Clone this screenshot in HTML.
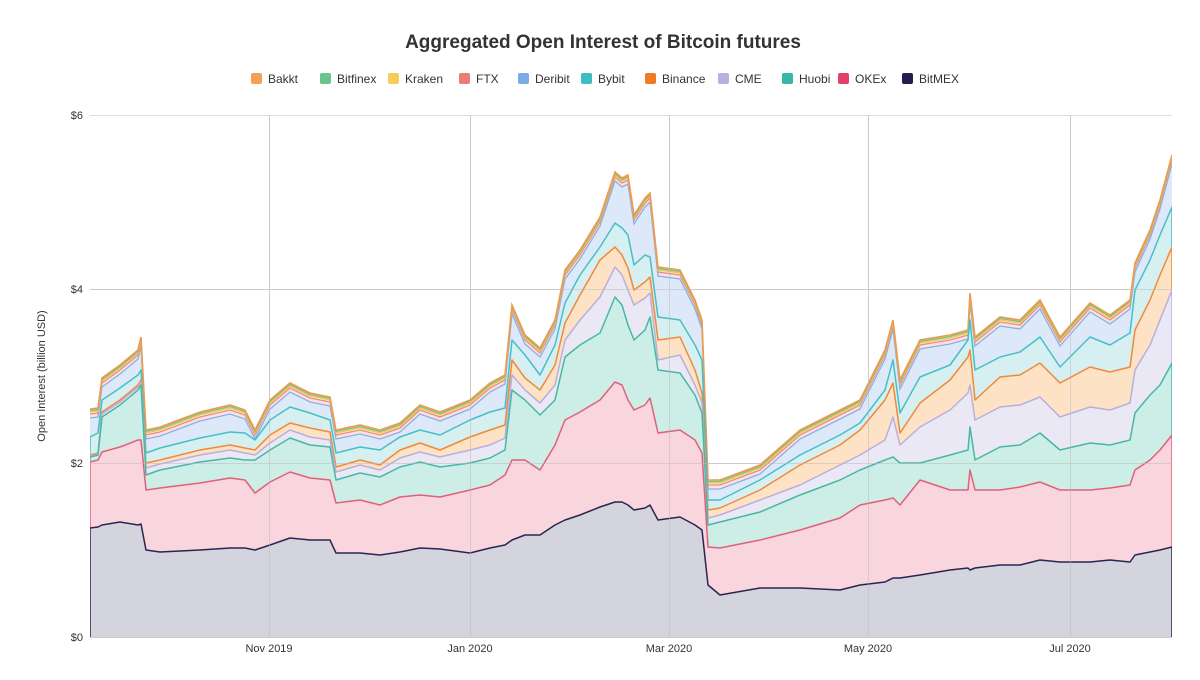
<!DOCTYPE html>
<html><head><meta charset="utf-8"><style>
body{margin:0;background:#fff;width:1200px;height:675px;overflow:hidden;font-family:"Liberation Sans",sans-serif}
</style></head><body>
<svg width="1200" height="675" xmlns="http://www.w3.org/2000/svg" xmlns:xlink="http://www.w3.org/1999/xlink" font-family="Liberation Sans, sans-serif">
<defs>
<clipPath id="cp"><rect x="90" y="100" width="1082" height="537"/></clipPath>
<polygon id="T" points="90,409 98,408 102,378 120,365 138,350 141,337 146,430 160,427 200,412 230,405 245,410 255,430 270,400 290,383 310,393 330,397 336,430 360,425 380,430 400,423 420,405 440,412 470,400 490,383 505,375 512,305 525,335 540,348 555,320 565,270 580,250 600,217 615,172 622,178 628,175 634,215 645,198 650,193 658,267 680,270 695,300 702,320 708,480 720,480 760,465 800,430 840,410 860,400 885,350 893,320 900,380 920,340 950,335 968,330 970,293 975,337 1000,317 1020,320 1040,300 1060,337 1090,303 1110,315 1130,300 1135,263 1150,230 1160,200 1172,155 1172,660 90,660"/>
<polyline id="TL" fill="none" points="90,409 98,408 102,378 120,365 138,350 141,337 146,430 160,427 200,412 230,405 245,410 255,430 270,400 290,383 310,393 330,397 336,430 360,425 380,430 400,423 420,405 440,412 470,400 490,383 505,375 512,305 525,335 540,348 555,320 565,270 580,250 600,217 615,172 622,178 628,175 634,215 645,198 650,193 658,267 680,270 695,300 702,320 708,480 720,480 760,465 800,430 840,410 860,400 885,350 893,320 900,380 920,340 950,335 968,330 970,293 975,337 1000,317 1020,320 1040,300 1060,337 1090,303 1110,315 1130,300 1135,263 1150,230 1160,200 1172,155"/>
</defs>
<rect width="1200" height="675" fill="#fff"/>
<text x="603" y="48" text-anchor="middle" font-size="19" font-weight="bold" fill="#333">Aggregated Open Interest of Bitcoin futures</text>
<g font-size="12" fill="#333">
<rect x="251" y="73" width="11" height="11" rx="2" fill="#f4a05a"/><text x="268" y="83">Bakkt</text>
<rect x="320" y="73" width="11" height="11" rx="2" fill="#6cc48a"/><text x="337" y="83">Bitfinex</text>
<rect x="388" y="73" width="11" height="11" rx="2" fill="#f5cc5a"/><text x="405" y="83">Kraken</text>
<rect x="459" y="73" width="11" height="11" rx="2" fill="#ee7b76"/><text x="476" y="83">FTX</text>
<rect x="518" y="73" width="11" height="11" rx="2" fill="#7aabe8"/><text x="535" y="83">Deribit</text>
<rect x="581" y="73" width="11" height="11" rx="2" fill="#3fbcc4"/><text x="598" y="83">Bybit</text>
<rect x="645" y="73" width="11" height="11" rx="2" fill="#f07a25"/><text x="662" y="83">Binance</text>
<rect x="718" y="73" width="11" height="11" rx="2" fill="#b8b0e0"/><text x="735" y="83">CME</text>
<rect x="782" y="73" width="11" height="11" rx="2" fill="#35b8a8"/><text x="799" y="83">Huobi</text>
<rect x="838" y="73" width="11" height="11" rx="2" fill="#e4406a"/><text x="855" y="83">OKEx</text>
<rect x="902" y="73" width="11" height="11" rx="2" fill="#221f4f"/><text x="919" y="83">BitMEX</text>
</g>
<g stroke="#ddd" stroke-width="1">
<line x1="90" y1="115.5" x2="1172" y2="115.5"/><line x1="90" y1="289.5" x2="1172" y2="289.5"/>
<line x1="90" y1="463.5" x2="1172" y2="463.5"/><line x1="90" y1="637.5" x2="1172" y2="637.5"/>
<line x1="269.5" y1="115" x2="269.5" y2="637"/><line x1="470.5" y1="115" x2="470.5" y2="637"/>
<line x1="669.5" y1="115" x2="669.5" y2="637"/><line x1="868.5" y1="115" x2="868.5" y2="637"/>
<line x1="1070.5" y1="115" x2="1070.5" y2="637"/>
</g>
<g clip-path="url(#cp)">
<use xlink:href="#T" href="#T" fill="#fde5cc"/>
<use xlink:href="#T" href="#T" fill="#dcf0e0" transform="translate(0,1.5)"/>
<use xlink:href="#T" href="#T" fill="#fdf2cc" transform="translate(0,3)"/>
<use xlink:href="#T" href="#T" fill="#fbe1e1" transform="translate(0,5)"/>
<use xlink:href="#T" href="#T" fill="#dde9f8" transform="translate(0,9)"/>
<use xlink:href="#TL" href="#TL" stroke="#86b2e6" stroke-width="1.3" transform="translate(0,9)"/>
<use xlink:href="#TL" href="#TL" stroke="#ee8a86" stroke-width="1.3" transform="translate(0,5)"/>
<use xlink:href="#TL" href="#TL" stroke="#f0c850" stroke-width="1.3" transform="translate(0,3)"/>
<use xlink:href="#TL" href="#TL" stroke="#74c48a" stroke-width="1.3" transform="translate(0,1.5)"/>
<use xlink:href="#TL" href="#TL" stroke="#ef9a50" stroke-width="1.6"/>

<polygon fill="#d6f0f1" stroke="#45bfc8" stroke-width="1.5" stroke-linejoin="round" points="90,437 98,433 102,400 120,388 138,375 141,370 146,453 160,448 200,438 230,432 245,433 255,440 270,420 290,407 310,413 330,420 336,453 360,447 380,450 400,437 420,430 440,435 470,420 490,412 505,408 512,340 525,355 540,375 555,345 565,303 580,275 600,247 615,223 622,228 628,235 634,265 645,255 650,257 658,317 680,320 695,345 702,360 708,500 720,500 760,480 800,455 840,435 860,423 885,390 893,360 900,413 920,377 950,365 968,340 970,320 975,370 1000,357 1020,352 1040,337 1060,367 1090,337 1110,345 1130,333 1135,290 1150,260 1160,235 1172,207 1172,660 90,660"/>
<polygon fill="#fde2c6" stroke="#ef8a3a" stroke-width="1.5" stroke-linejoin="round" points="90,455 98,453 102,412 120,400 138,385 141,380 146,463 160,460 200,450 230,445 245,448 255,450 270,435 290,423 310,428 330,432 336,467 360,460 380,465 400,450 420,443 440,450 470,437 490,430 505,425 512,360 525,378 540,390 555,365 565,323 580,295 600,260 615,247 622,255 628,268 634,290 645,282 650,277 658,340 680,337 695,370 702,393 708,510 720,508 760,490 800,465 840,445 860,430 885,400 893,383 900,433 920,403 950,380 968,357 970,350 975,400 1000,377 1020,375 1040,363 1060,383 1090,367 1110,372 1130,367 1135,330 1150,300 1160,275 1172,247 1172,660 90,660"/>
<polygon fill="#ebe8f5" stroke="#b8b0dc" stroke-width="1.5" stroke-linejoin="round" points="90,456 98,454 102,414 120,402 138,387 141,382 146,468 160,464 200,455 230,450 245,453 255,455 270,443 290,430 310,437 330,440 336,472 360,465 380,470 400,458 420,452 440,457 470,450 490,445 505,438 512,375 525,390 540,403 555,385 565,340 580,320 600,297 615,267 622,275 628,290 634,305 645,298 650,293 658,360 680,355 695,385 702,403 708,518 720,515 760,500 800,485 840,465 860,455 885,440 893,417 900,445 920,427 950,410 968,393 970,385 975,420 1000,407 1020,405 1040,397 1060,417 1090,407 1110,410 1130,403 1135,370 1150,345 1160,320 1172,290 1172,660 90,660"/>
<polygon fill="#cdeee6" stroke="#45b8a6" stroke-width="1.5" stroke-linejoin="round" points="90,457 98,455 102,417 120,405 138,390 141,385 146,475 160,470 200,462 230,458 245,460 255,460 270,450 290,438 310,445 330,447 336,480 360,473 380,477 400,467 420,462 440,467 470,463 490,458 505,450 512,390 525,400 540,415 555,400 565,357 580,345 600,333 615,297 622,305 628,325 634,340 645,330 650,317 658,370 680,373 695,395 702,413 708,525 720,522 760,512 800,495 840,480 860,470 885,460 893,457 900,463 920,463 950,455 968,450 970,427 975,460 1000,447 1020,445 1040,433 1060,450 1090,443 1110,445 1130,440 1135,413 1150,395 1160,385 1172,363 1172,660 90,660"/>
<polygon fill="#f9d6dd" stroke="#e0607a" stroke-width="1.5" stroke-linejoin="round" points="90,462 98,460 102,452 120,447 138,440 141,440 146,490 160,488 200,483 230,478 245,480 255,493 270,482 290,472 310,478 330,480 336,503 360,500 380,505 400,497 420,495 440,497 470,490 490,485 505,475 512,460 525,460 540,470 555,445 565,420 580,412 600,400 615,382 622,385 628,400 634,410 645,405 650,398 658,433 680,430 695,440 702,453 708,547 720,548 760,540 800,530 840,518 860,505 885,500 893,498 900,505 920,480 950,490 968,490 970,470 975,490 1000,490 1020,487 1040,482 1060,490 1090,490 1110,488 1130,485 1135,470 1150,460 1160,450 1172,435 1172,660 90,660"/>
<polygon fill="#d4d4df" stroke="#2a2550" stroke-width="1.5" stroke-linejoin="round" points="90,528 98,527 102,525 120,522 138,525 141,524 146,550 160,552 200,550 230,548 245,548 255,550 270,545 290,538 310,540 330,540 336,553 360,553 380,555 400,552 420,548 440,549 470,553 490,548 505,545 512,540 525,535 540,535 555,525 565,520 580,515 600,507 615,502 622,502 628,505 634,510 645,508 650,505 658,520 680,517 695,525 702,530 708,585 720,595 760,588 800,588 840,590 860,585 885,582 893,578 900,578 920,575 950,570 968,568 970,570 975,568 1000,565 1020,565 1040,560 1060,562 1090,562 1110,560 1130,562 1135,555 1150,552 1160,550 1172,547 1172,660 90,660"/>
</g>
<g stroke="#bbb" stroke-width="1" opacity="0.5">
<line x1="90" y1="463.5" x2="1172" y2="463.5"/><line x1="90" y1="289.5" x2="1172" y2="289.5"/>
<line x1="269.5" y1="115" x2="269.5" y2="637"/><line x1="470.5" y1="115" x2="470.5" y2="637"/>
<line x1="669.5" y1="115" x2="669.5" y2="637"/><line x1="868.5" y1="115" x2="868.5" y2="637"/>
<line x1="1070.5" y1="115" x2="1070.5" y2="637"/>
</g>
<line x1="90" y1="637.5" x2="1172" y2="637.5" stroke="#ccc"/>
<g font-size="11" fill="#333" text-anchor="end">
<text x="83" y="119">$6</text><text x="83" y="293">$4</text><text x="83" y="467">$2</text><text x="83" y="641">$0</text>
</g>
<g font-size="11" fill="#333" text-anchor="middle">
<text x="269" y="652">Nov 2019</text><text x="470" y="652">Jan 2020</text><text x="669" y="652">Mar 2020</text>
<text x="868" y="652">May 2020</text><text x="1070" y="652">Jul 2020</text>
</g>
<text transform="translate(45,376) rotate(-90)" text-anchor="middle" font-size="11" fill="#333">Open Interest (billion USD)</text>
</svg>
</body></html>
